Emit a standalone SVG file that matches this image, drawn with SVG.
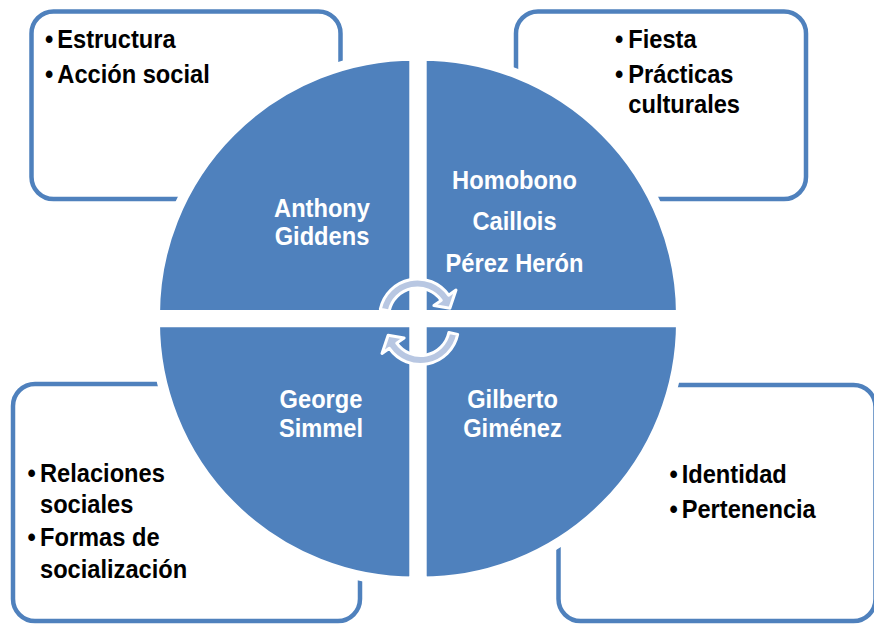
<svg xmlns="http://www.w3.org/2000/svg" width="874" height="624" viewBox="0 0 874 624">
<style>
.box{fill:#fff;stroke:#4F81BD;stroke-width:4.5}
.q{fill:#4F81BD;stroke:#fff;stroke-width:10}
.t{font-family:"Liberation Sans",Arial,sans-serif;font-weight:bold;font-size:26px}
.b{fill:#000}
.w{fill:#fff;text-anchor:middle}
.arr{fill:#B8C7E2;stroke:#fff;stroke-width:3;stroke-linejoin:round}
</style>
<defs>
<path id="cyc" d="M380.33 309.10 A38 38 0 0 1 448.63 295.20 L456.00 290.04 L449.86 308.33 L433.88 305.53 L441.26 300.37 A29 29 0 0 0 389.14 310.97 Z"/>
</defs>
<rect width="874" height="624" fill="#fff"/>

<g id="box-tl">
<rect class="box" x="31.5" y="11.5" width="309" height="187.5" rx="22"/>
<text class="t b" transform="translate(45 47.7) scale(0.91 1)">•</text>
<text class="t b" transform="translate(57.3 47.7) scale(0.91 1)">Estructura</text>
<text class="t b" transform="translate(45 83.3) scale(0.91 1)">•</text>
<text class="t b" transform="translate(57.3 83.3) scale(0.91 1)">Acción social</text>
</g>
<g id="box-tr">
<rect class="box" x="516" y="11.5" width="290" height="187.5" rx="22"/>
<text class="t b" transform="translate(615 47.7) scale(0.91 1)">•</text>
<text class="t b" transform="translate(628.3 47.7) scale(0.91 1)">Fiesta</text>
<text class="t b" transform="translate(615 83.3) scale(0.91 1)">•</text>
<text class="t b" transform="translate(628.3 83.3) scale(0.91 1)">Prácticas</text>
<text class="t b" transform="translate(628.3 113.3) scale(0.91 1)">culturales</text>
</g>
<g id="box-bl">
<rect class="box" x="13" y="384" width="347" height="237" rx="22"/>
<text class="t b" transform="translate(27.5 481.7) scale(0.91 1)">•</text>
<text class="t b" transform="translate(40 481.7) scale(0.91 1)">Relaciones</text>
<text class="t b" transform="translate(40 512.7) scale(0.91 1)">sociales</text>
<text class="t b" transform="translate(27.5 546) scale(0.91 1)">•</text>
<text class="t b" transform="translate(40 546) scale(0.91 1)">Formas de</text>
<text class="t b" transform="translate(40 578.3) scale(0.91 1)">socialización</text>
</g>
<g id="box-br">
<rect class="box" x="558.5" y="385" width="317" height="236" rx="22"/>
<text class="t b" transform="translate(669.5 483.3) scale(0.91 1)">•</text>
<text class="t b" transform="translate(681.7 483.3) scale(0.91 1)">Identidad</text>
<text class="t b" transform="translate(669.5 518.3) scale(0.91 1)">•</text>
<text class="t b" transform="translate(681.7 518.3) scale(0.91 1)">Pertenencia</text>
</g>

<g id="q-giddens">
<path class="q" d="M414.3 315 H155 A259.3 259.3 0 0 1 414.3 55.7 Z"/>
<text class="t w" transform="translate(322 216.7) scale(0.91 1)">Anthony</text>
<text class="t w" transform="translate(322 245) scale(0.91 1)">Giddens</text>
</g>
<g id="q-homobono">
<path class="q" d="M421.7 315 V55.7 A259.3 259.3 0 0 1 681 315 Z"/>
<text class="t w" transform="translate(514.5 189.3) scale(0.91 1)">Homobono</text>
<text class="t w" transform="translate(514.5 230) scale(0.91 1)">Caillois</text>
<text class="t w" transform="translate(514.5 271.7) scale(0.91 1)">Pérez Herón</text>
</g>
<g id="q-gimenez">
<path class="q" d="M421.7 322.3 H681 A259.3 259.3 0 0 1 421.7 581.6 Z"/>
<text class="t w" transform="translate(512.5 408.3) scale(0.91 1)">Gilberto</text>
<text class="t w" transform="translate(512.5 436.7) scale(0.91 1)">Giménez</text>
</g>
<g id="q-simmel">
<path class="q" d="M414.3 322.3 V581.6 A259.3 259.3 0 0 1 155 322.3 Z"/>
<text class="t w" transform="translate(321 408.3) scale(0.91 1)">George</text>
<text class="t w" transform="translate(321 436.7) scale(0.91 1)">Simmel</text>
</g>

<g id="connectors">
<use class="arr" href="#cyc"/>
<use class="arr" href="#cyc" transform="rotate(180 419 321.75)"/>
</g>
</svg>
